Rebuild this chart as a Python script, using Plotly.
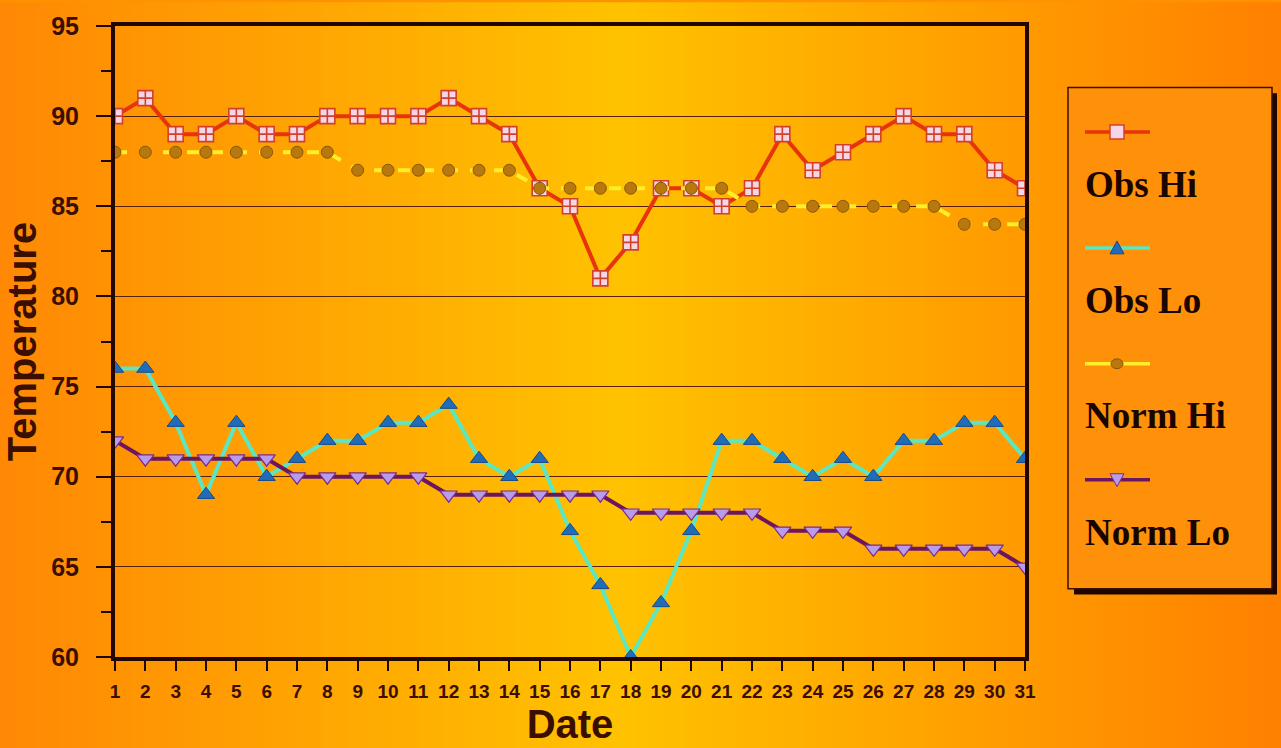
import plotly.graph_objects as go

# ---------------- data ----------------
days = list(range(1, 32))
obs_hi = [90, 91, 89, 89, 90, 89, 89, 90, 90, 90, 90, 91, 90, 89, 86, 85,
          81, 83, 86, 86, 85, 86, 89, 87, 88, 89, 90, 89, 89, 87, 86]
obs_lo = [76, 76, 73, 69, 73, 70, 71, 72, 72, 73, 73, 74, 71, 70, 71, 67,
          64, 60, 63, 67, 72, 72, 71, 70, 71, 70, 72, 72, 73, 73, 71]
norm_hi = [88, 88, 88, 88, 88, 88, 88, 88, 87, 87, 87, 87, 87, 87, 86, 86,
           86, 86, 86, 86, 86, 85, 85, 85, 85, 85, 85, 85, 84, 84, 84]
norm_lo = [72, 71, 71, 71, 71, 71, 70, 70, 70, 70, 70, 69, 69, 69, 69, 69,
           69, 68, 68, 68, 68, 68, 67, 67, 67, 66, 66, 66, 66, 66, 65]
series_names = ["Obs Hi", "Obs Lo", "Norm Hi", "Norm Lo"]
y_ticks = [60, 65, 70, 75, 80, 85, 90, 95]

# ---------------- geometry helpers ----------------
W, H = 1281, 748
L, R, T, B = 115, 1025, 20, 657


def px(x):
    return (x - L) / (R - L)


def py(y):
    return (B - y) / (B - T)


DARK = "#220700"
TXT = "#3A0E00"

fig = go.Figure()

fig.add_trace(go.Scatter(
    x=days, y=obs_hi, name=series_names[0], mode="lines+markers",
    line=dict(color="#E8340C", width=4),
    marker=dict(symbol="square-cross", size=15, color="#F6D6E6",
                line=dict(color="#D2402A", width=1.6))))
fig.add_trace(go.Scatter(
    x=days, y=obs_lo, name=series_names[1], mode="lines+markers",
    line=dict(color="#5CE6C2", width=4),
    marker=dict(symbol="triangle-up", size=15, color="#1F6CB8",
                line=dict(color="#1A4A8A", width=1))))
fig.add_trace(go.Scatter(
    x=days, y=norm_hi, name=series_names[2], mode="lines+markers",
    line=dict(color="#FFEE2A", width=4, dash="dash"),
    marker=dict(symbol="circle", size=12, color="#B8780E",
                line=dict(color="#8A5808", width=1))))
fig.add_trace(go.Scatter(
    x=days, y=norm_lo, name=series_names[3], mode="lines+markers",
    line=dict(color="#6C1660", width=4),
    marker=dict(symbol="triangle-down", size=15, color="#B89CEA",
                line=dict(color="#7A2A8A", width=1.2))))

# ---------------- background gradient ----------------
stops = [(0, (255, 136, 4)), (620, (255, 194, 0)), (1281, (255, 128, 0))]


def grad(x):
    for (x0, c0), (x1, c1) in zip(stops[:-1], stops[1:]):
        if x0 <= x <= x1:
            t = (x - x0) / (x1 - x0)
            return "rgb(%d,%d,%d)" % tuple(round(a + (b - a) * t) for a, b in zip(c0, c1))
    return "rgb(255,128,0)"


shapes = []
step = 6
for x in range(0, W, step):
    shapes.append(dict(type="rect", xref="paper", yref="paper",
                       x0=px(x), x1=px(x + step + 1), y0=py(H + 4), y1=py(-4),
                       fillcolor=grad(x + step / 2), line=dict(width=0),
                       layer="below"))

# ---------------- custom legend ----------------
bx0, bx1, by0, by1 = 1068, 1272, 82, 588
shapes.append(dict(type="rect", xref="paper", yref="paper",
                   x0=px(bx0 + 6), x1=px(bx1 + 5), y0=py(by1 + 6), y1=py(by0 + 6),
                   fillcolor="#1E0600", line=dict(width=0)))
shapes.append(dict(type="rect", xref="paper", yref="paper",
                   x0=px(bx0), x1=px(bx1), y0=py(by1), y1=py(by0),
                   fillcolor="#FF900A", line=dict(color="#3A1000", width=1.5)))

line_cols = ["#E8340C", "#5CE6C2", "#FFEE2A", "#6C1660"]
sample_y = [127, 244, 361, 478]
text_y = [180, 297, 413, 531]
annotations = []
for i in range(4):
    yy = sample_y[i]
    shapes.append(dict(type="line", xref="paper", yref="paper",
                       x0=px(1085), x1=px(1150), y0=py(yy), y1=py(yy),
                       line=dict(color=line_cols[i], width=3.5)))
    annotations.append(dict(xref="paper", yref="paper", x=px(1083), y=py(text_y[i]),
                            text="<b>%s</b>" % series_names[i], showarrow=False,
                            xanchor="left", yanchor="middle",
                            font=dict(family="Liberation Serif", size=37, color="#1A0400")))

cx = 1117
shapes.append(dict(type="rect", xref="paper", yref="paper",
                   x0=px(cx - 7), x1=px(cx + 7), y0=py(sample_y[0] + 7), y1=py(sample_y[0] - 7),
                   fillcolor="#F6D6E6", line=dict(color="#D2402A", width=1.5)))
y1 = sample_y[1]
shapes.append(dict(type="path", xref="paper", yref="paper",
                   path="M %f,%f L %f,%f L %f,%f Z" % (px(cx - 7), py(y1 + 6), px(cx + 7), py(y1 + 6), px(cx), py(y1 - 7)),
                   fillcolor="#1F6CB8", line=dict(color="#1A4A8A", width=1)))
y2 = sample_y[2]
shapes.append(dict(type="circle", xref="paper", yref="paper",
                   x0=px(cx - 6), x1=px(cx + 6), y0=py(y2 + 5), y1=py(y2 - 5),
                   fillcolor="#B8780E", line=dict(color="#8A5808", width=1)))
y3 = sample_y[3]
shapes.append(dict(type="path", xref="paper", yref="paper",
                   path="M %f,%f L %f,%f L %f,%f Z" % (px(cx - 7), py(y3 - 6), px(cx + 7), py(y3 - 6), px(cx), py(y3 + 7)),
                   fillcolor="#B89CEA", line=dict(color="#7A2A8A", width=1)))

fig.update_layout(
    width=W, height=H,
    margin=dict(l=L, r=W - R, t=T, b=H - B, pad=0),
    paper_bgcolor="#FF9200", plot_bgcolor="rgba(0,0,0,0)",
    showlegend=False,
    shapes=shapes, annotations=annotations,
    font=dict(family="Liberation Sans", color=TXT),
)

fig.update_xaxes(
    range=[1, 31], tickmode="array", tickvals=days, ticktext=[str(d) for d in days],
    showgrid=False, zeroline=False,
    showline=True, mirror=True, linecolor=DARK, linewidth=4,
    ticks="outside", ticklen=10, tickwidth=1.5, tickcolor=DARK,
    tickfont=dict(family="Liberation Sans", size=19, color=TXT, weight="bold"), ticklabelstandoff=4,
    title=dict(text="<b>Date</b>", font=dict(family="Liberation Sans", size=40, color=TXT), standoff=5),
)
fig.update_yaxes(
    range=[60, 95], tickmode="array", tickvals=y_ticks, ticktext=[str(v) for v in y_ticks],
    showgrid=True, gridcolor="#5A1E00", gridwidth=1.2, zeroline=False,
    showline=True, mirror=True, linecolor=DARK, linewidth=4,
    ticks="outside", ticklen=15, tickwidth=1.5, tickcolor=DARK,
    minor=dict(tickvals=[62.5, 67.5, 72.5, 77.5, 82.5, 87.5, 92.5], ticks="outside",
               ticklen=10, tickwidth=1.5, tickcolor=DARK, showgrid=False),
    tickfont=dict(family="Liberation Sans", size=25, color=TXT, weight="bold"), ticklabelstandoff=12,
    title=dict(text="<b>Temperature</b>", font=dict(family="Liberation Sans", size=40, color=TXT), standoff=6),
)

fig.write_html("out.html", config={"displayModeBar": False},
               post_script="document.body.style.margin='0';document.body.style.overflow='hidden';")
